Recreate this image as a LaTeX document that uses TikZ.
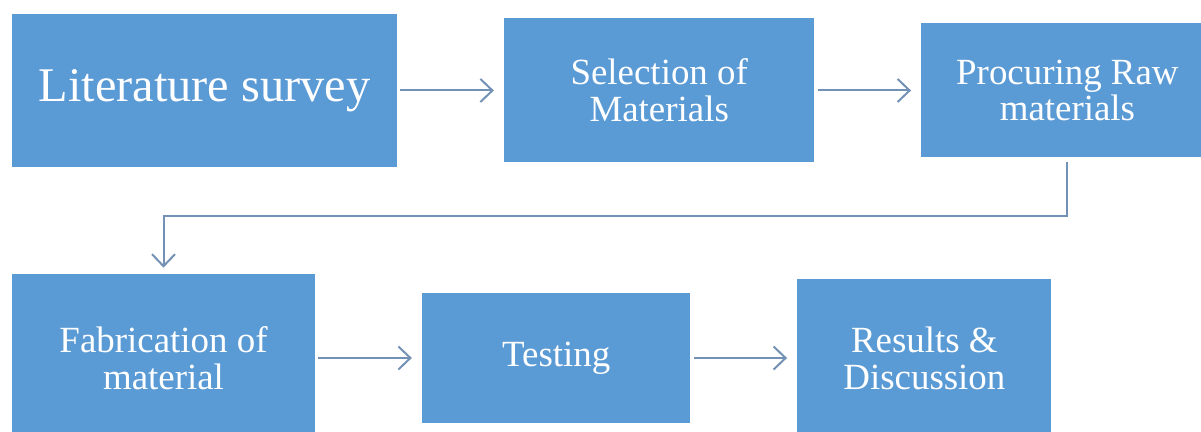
\documentclass[tikz,border=0pt]{standalone}
\usepackage{fontspec}
\setmainfont{Liberation Serif}
\usetikzlibrary{arrows.meta, positioning}
\definecolor{boxblue}{RGB}{91,155,213}
\definecolor{arrowgray}{RGB}{115,145,180}

\begin{document}
\begin{tikzpicture}[
    node distance=2.13cm,
    box/.style={rectangle, fill=boxblue, text=white, align=center, inner sep=0pt, font=\fontsize{21}{21}\selectfont},
    arrow/.style={-{Straight Barb[length=0.24cm, width=0.46cm]}, line width=0.04cm, draw=arrowgray, shorten <=0.06cm, shorten >=0.2cm}
]
\useasboundingbox (0,0) rectangle (24.02,-8.64);
\clip (0,0) rectangle (24.02,-8.64);

% Nodes
\node[box, minimum width=7.7cm, minimum height=3.06cm, font=\fontsize{27.5}{28}\selectfont] (litsurvey) at (4.09,-1.81) {Literature survey};
\node[box, right=of litsurvey, minimum width=6.2cm, minimum height=2.88cm] (selection) {Selection of\\Materials};
\node[box, right=of selection, minimum width=5.84cm, minimum height=2.68cm] (procuring) {Procuring Raw\\materials};
\node[box, minimum width=6.06cm, minimum height=3.36cm] (fabrication) at (3.27,-7.16) {Fabrication of\\material};
\node[box, right=of fabrication, minimum width=5.36cm, minimum height=2.6cm] (testing) {Testing};
\node[box, right=of testing, minimum width=5.08cm, minimum height=3.16cm] (results) {Results \&\\Discussion};

% Connections
\draw[arrow] (litsurvey) -- (selection);
\draw[arrow] (selection) -- (procuring);
\draw[arrow, shorten <=0.08cm, shorten >=0.12cm] (procuring.south) -- ++(0,-1.16) -| (fabrication.north);
\draw[arrow] (fabrication) -- (testing);
\draw[arrow] (testing) -- (results);

\end{tikzpicture}
\end{document}
